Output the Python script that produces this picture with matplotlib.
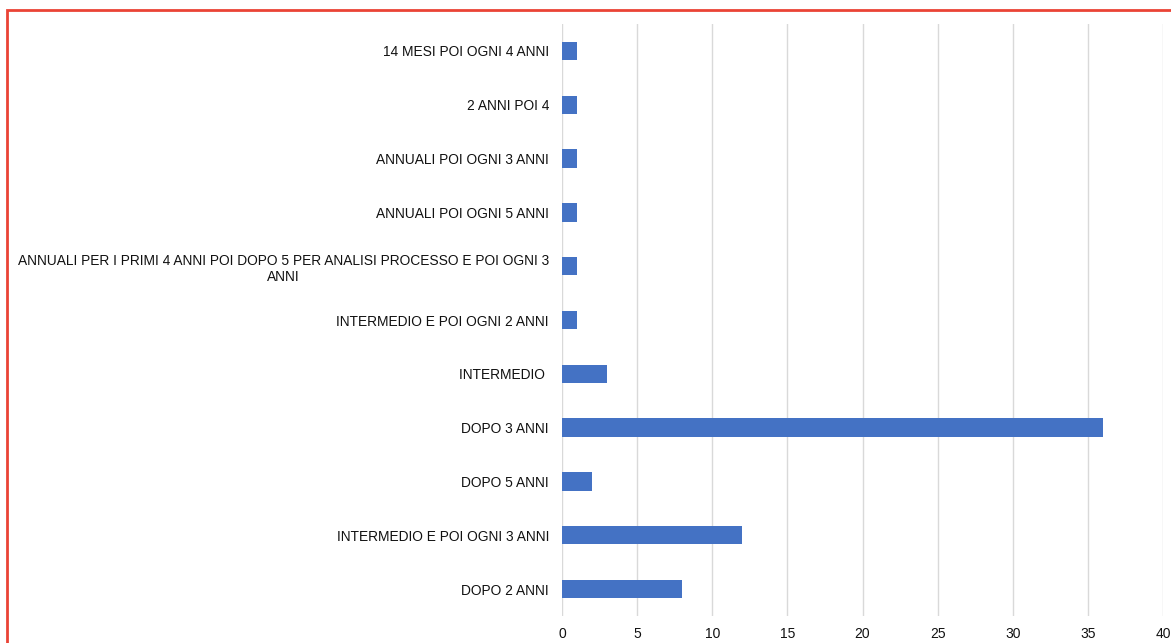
import matplotlib
matplotlib.use("Agg")
import matplotlib.pyplot as plt
from matplotlib.patches import Rectangle

categories = [
    "14 MESI POI OGNI 4 ANNI",
    "2 ANNI POI 4",
    "ANNUALI POI OGNI 3 ANNI",
    "ANNUALI POI OGNI 5 ANNI",
    "ANNUALI PER I PRIMI 4 ANNI POI DOPO 5 PER ANALISI PROCESSO E POI OGNI 3\nANNI",
    "INTERMEDIO E POI OGNI 2 ANNI",
    "INTERMEDIO ",
    "DOPO 3 ANNI",
    "DOPO 5 ANNI",
    "INTERMEDIO E POI OGNI 3 ANNI",
    "DOPO 2 ANNI",
]
values = [1, 1, 1, 1, 1, 1, 3, 36, 2, 12, 8]
xticks = [0, 5, 10, 15, 20, 25, 30, 35, 40]

plt.rcParams['font.family'] = ['Liberation Sans', 'DejaVu Sans']

W, H = 1171, 643
fig = plt.figure(figsize=(W / 100, H / 100), dpi=100)
ax = fig.add_axes([562 / W, 1 - 616 / H, (1163 - 562) / W, (616 - 24) / H])

ypos = list(range(len(categories)))
ax.barh(ypos, values, height=0.34, color="#4472C4")
ax.set_ylim(len(categories) - 0.5, -0.5)
ax.set_xlim(0, 40)
ax.set_xticks(xticks)
ax.set_xticklabels([str(t) for t in xticks], fontsize=10, color="#111111")
ax.set_yticks(ypos)
ax.set_yticklabels(categories, fontsize=9.9, color="#111111",
                   multialignment="center", linespacing=1.2)
ax.tick_params(axis="both", length=0)
ax.tick_params(axis="y", pad=9.4)
ax.tick_params(axis="x", pad=8)
ax.xaxis.grid(True, color="#d9d9d9", linewidth=1)
ax.set_axisbelow(True)
for s in ax.spines.values():
    s.set_visible(False)

fig.patches.append(Rectangle((7 / W, -0.1), 1.2, 1 - 10 / H + 0.1,
                             transform=fig.transFigure, fill=False,
                             edgecolor="#ea4335", linewidth=2))

fig.savefig("out.png", dpi=100)
